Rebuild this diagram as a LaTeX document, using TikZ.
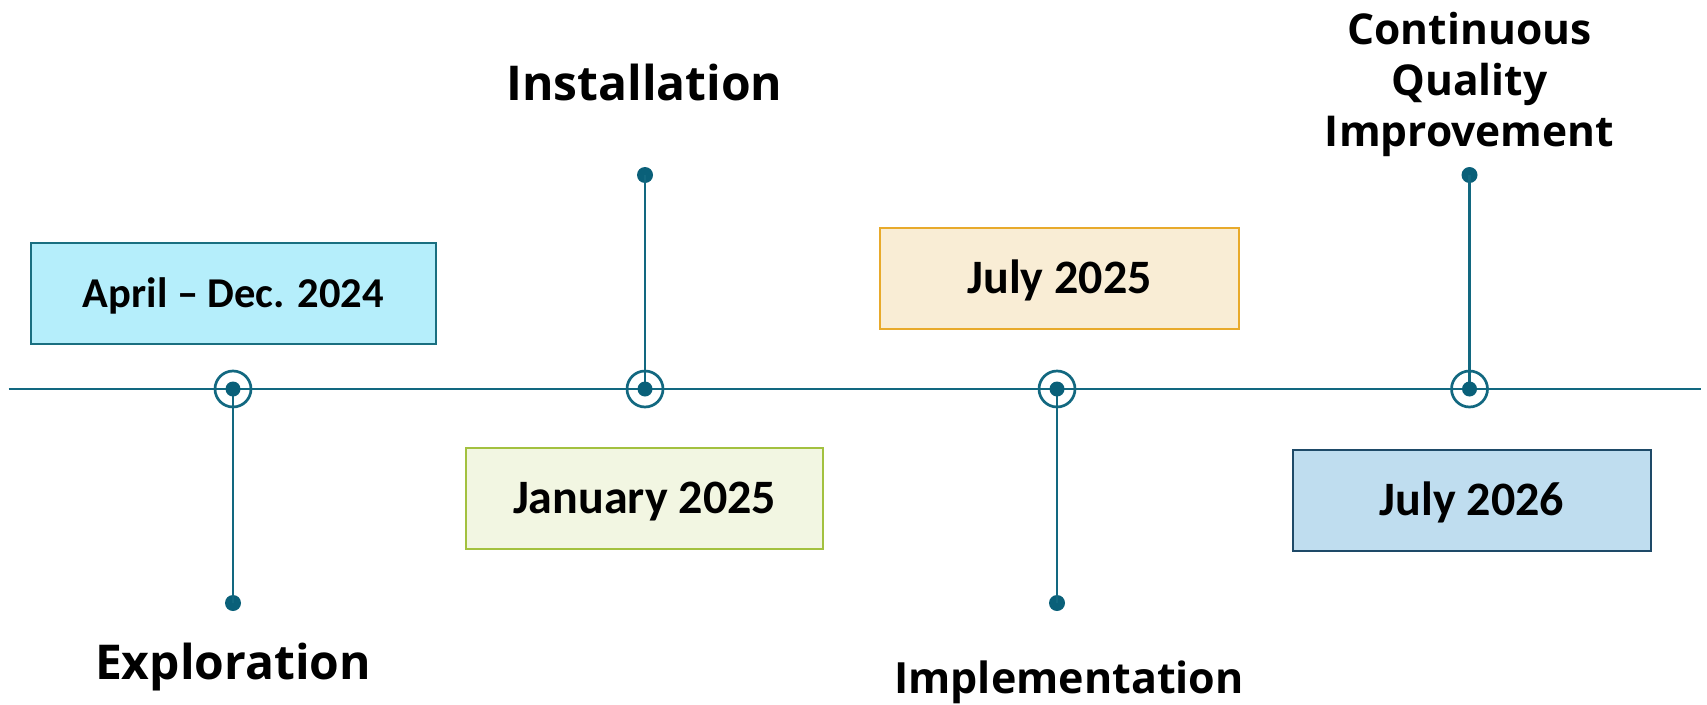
\documentclass[tikz,border=0pt]{standalone}
\usepackage{fontspec}
\newfontfamily\datefont{Carlito}
\newfontfamily\labelfont{Open Sans}
\definecolor{teal}{RGB}{18,104,128}
\definecolor{dotc}{RGB}{10,96,121}
\definecolor{cyanf}{RGB}{181,238,251}
\definecolor{cyanb}{RGB}{26,111,128}
\definecolor{greenf}{RGB}{242,246,226}
\definecolor{greenb}{RGB}{163,193,63}
\definecolor{sandf}{RGB}{249,237,213}
\definecolor{sandb}{RGB}{232,170,43}
\definecolor{bluef}{RGB}{191,221,239}
\definecolor{blueb}{RGB}{30,74,104}
\tikzset{
  datebox/.style={draw, line width=2.6pt, inner sep=0pt, font=\datefont\bfseries\fontsize{48}{54}\selectfont, text height=30pt, text depth=0pt},
  ring/.style={circle, draw=teal, line width=2.7pt, minimum size=36pt, inner sep=0pt},
  hub/.style={circle, fill=dotc, minimum size=15pt, inner sep=0pt},
  enddot/.style={circle, fill=dotc, minimum size=16pt, inner sep=0pt},
  tline/.style={draw=teal, line width=2.5pt},
  phase/.style={font=\labelfont\bfseries, inner sep=0pt, anchor=base}
}
\begin{document}
\begin{tikzpicture}[x=1pt,y=-1pt]
\useasboundingbox (0,0) rectangle (1707,704);
% main line
\coordinate (L) at (8.7,389);
\coordinate (R) at (1701,389);
\draw[tline] (L) -- (R);
% markers
\node[ring] (m1) at (233,389) {};
\node[ring] (m2) at (645,389) {};
\node[ring] (m3) at (1057,389) {};
\node[ring] (m4) at (1469.5,389) {};
% stem end dots
\node[enddot] (e1) at (233,603) {};
\node[enddot] (e2) at (645,175) {};
\node[enddot] (e3) at (1057,603) {};
\node[enddot] (e4) at (1469.5,175) {};
\draw[tline] (m1.center) -- (e1.center);
\draw[tline] (m2.center) -- (e2.center);
\draw[tline] (m3.center) -- (e3.center);
\draw[tline] (m4.center) -- (e4.center);
\node[hub] (h1) at (m1.center) {};
\node[hub] (h2) at (m2.center) {};
\node[hub] (h3) at (m3.center) {};
\node[hub] (h4) at (m4.center) {};
% date boxes
\node[datebox, fill=cyanf, draw=cyanb, minimum width=405pt, minimum height=101pt, font=\datefont\bfseries\fontsize{42.5}{50}\selectfont, text height=27pt] (d1) at (233.5,293.5) {April – Dec. 2024};
\node[datebox, fill=greenf, draw=greenb, minimum width=357pt, minimum height=101pt] (d2) at (644.5,498.5) {January 2025};
\node[datebox, fill=sandf, draw=sandb, minimum width=359pt, minimum height=101pt] (d3) at (1059.5,278.5) {July 2025};
\node[datebox, fill=bluef, draw=blueb, minimum width=358pt, minimum height=101pt] (d4) at (1472,500.5) {July 2026};
% phase labels
\node[phase, font=\labelfont\bfseries\fontsize{48}{56}\selectfont] (p2) at (644.5,100.7) {Installation};
\node[phase, font=\labelfont\bfseries\fontsize{48}{56}\selectfont] (p1) at (233,679) {Exploration};
\node[phase, font=\labelfont\bfseries\fontsize{43}{50}\selectfont] (p3) at (1069,693) {Implementation};
\node[phase, align=center, font=\labelfont\bfseries\fontsize{42.5}{51}\selectfont] (p4) at (1469.5,146.7) {Continuous\\Quality\\Improvement};
\end{tikzpicture}
\end{document}
